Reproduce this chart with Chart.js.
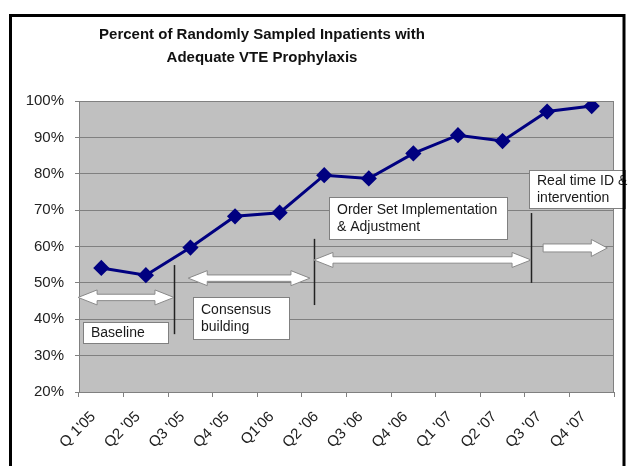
<!DOCTYPE html>
<html><head><meta charset="utf-8">
<script src="https://cdn.jsdelivr.net/npm/chart.js@4/dist/chart.umd.min.js"></script>
<style>html,body{margin:0;padding:0;background:#fff;overflow:hidden}canvas{display:block}</style>
</head><body>
<canvas id="c" width="628" height="466"></canvas>
<script>
const titleLines = ["Percent of Randomly Sampled Inpatients with", "Adequate VTE Prophylaxis"];
const quarters = ["Q 1'05","Q2 '05","Q3 '05","Q4 '05","Q1'06","Q2 '06","Q3 '06","Q4 '06","Q1 '07","Q2 '07","Q3 '07","Q4 '07"];
const percentAdequate = [54.1, 52.1, 59.7, 68.3, 69.3, 79.6, 78.7, 85.6, 90.6, 89.0, 97.1, 98.6];
const yMin = 20, yMax = 100, yStep = 10;

// phase annotations in data units (x: category index, y: percent)
const phaseLines = [
  {x: 1.63, from: 35.9, to: 54.9},
  {x: 4.77, from: 43.9, to: 62.1},
  {x: 9.64, from: 50.0, to: 69.2}
];
const phaseArrows = [
  {x1: -0.52, x2: 1.63, y: 46.0, both: true},
  {x1: 1.95, x2: 4.68, y: 51.3, both: true},
  {x1: 4.77, x2: 9.64, y: 56.3, both: true},
  {x1: 9.91, x2: 11.35, y: 59.6, both: false}
];
const phaseBoxes = [
  {lines: ["Baseline"], x1: -0.41, x2: 1.50, y1: 39.2, y2: 33.4},
  {lines: ["Consensus", "building"], x1: 2.06, x2: 4.21, y1: 46.1, y2: 34.6},
  {lines: ["Order Set Implementation", "& Adjustment"], x1: 5.11, x2: 9.10, y1: 73.6, y2: 62.1},
  {lines: ["Real time ID &", "intervention"], x1: 9.59, x2: 11.75, y1: 81.0, y2: 70.6}
];

const FONT = "'Liberation Sans', Arial, sans-serif";

const decor = {
  id: 'decor',
  beforeDraw(chart) {
    const {ctx, chartArea: a} = chart;
    ctx.save();
    ctx.fillStyle = '#fff';
    ctx.fillRect(0, 0, chart.width, chart.height);
    ctx.fillStyle = '#c0c0c0';
    ctx.fillRect(a.left, a.top, a.right - a.left, a.bottom - a.top);
    // title
    ctx.fillStyle = '#111';
    ctx.font = 'bold 15px ' + FONT;
    ctx.textAlign = 'center';
    ctx.textBaseline = 'middle';
    titleLines.forEach((t, i) => ctx.fillText(t, 262, 35 + i * 23));
    ctx.restore();
  },
  afterDraw(chart) {
    const {ctx, chartArea: a} = chart;
    const xs = chart.scales.x, ys = chart.scales.y;
    ctx.save();
    // plot border
    ctx.strokeStyle = '#808080';
    ctx.lineWidth = 1;
    ctx.strokeRect(a.left + 0.5, a.top + 0.5, a.right - a.left - 1, a.bottom - a.top);
    // vertical phase lines
    ctx.strokeStyle = '#222';
    ctx.lineWidth = 1.5;
    phaseLines.forEach(l => {
      const x = Math.round(xs.getPixelForValue(l.x)) + 0.5;
      ctx.beginPath();
      ctx.moveTo(x, ys.getPixelForValue(l.to));
      ctx.lineTo(x, ys.getPixelForValue(l.from));
      ctx.stroke();
    });
    // arrows
    ctx.fillStyle = '#fff';
    ctx.strokeStyle = '#8a8a8a';
    ctx.lineWidth = 1;
    phaseArrows.forEach(ar => {
      const x1 = xs.getPixelForValue(ar.x1), x2 = xs.getPixelForValue(ar.x2);
      const yc = ys.getPixelForValue(ar.y);
      ctx.beginPath();
      if (ar.both) {
        const s = 3.2, h = 7.5, L = 19;
        ctx.moveTo(x1, yc);
        ctx.lineTo(x1 + L, yc - h);
        ctx.lineTo(x1 + L, yc - s);
        ctx.lineTo(x2 - L, yc - s);
        ctx.lineTo(x2 - L, yc - h);
        ctx.lineTo(x2, yc);
        ctx.lineTo(x2 - L, yc + h);
        ctx.lineTo(x2 - L, yc + s);
        ctx.lineTo(x1 + L, yc + s);
        ctx.lineTo(x1 + L, yc + h);
      } else {
        const s = 4, h = 8.5, L = 16;
        ctx.moveTo(x1, yc - s);
        ctx.lineTo(x2 - L, yc - s);
        ctx.lineTo(x2 - L, yc - h);
        ctx.lineTo(x2, yc);
        ctx.lineTo(x2 - L, yc + h);
        ctx.lineTo(x2 - L, yc + s);
        ctx.lineTo(x1, yc + s);
      }
      ctx.closePath();
      ctx.fill();
      ctx.stroke();
    });
    // text boxes
    phaseBoxes.forEach(b => {
      const x1 = Math.round(xs.getPixelForValue(b.x1)) + 0.5, x2 = Math.round(xs.getPixelForValue(b.x2)) + 0.5;
      const y1 = Math.round(ys.getPixelForValue(b.y1)) + 0.5, y2 = Math.round(ys.getPixelForValue(b.y2)) + 0.5;
      ctx.fillStyle = '#fff';
      ctx.fillRect(x1, y1, x2 - x1, y2 - y1);
      ctx.strokeStyle = '#808080';
      ctx.strokeRect(x1, y1, x2 - x1, y2 - y1);
      ctx.fillStyle = '#1a1a1a';
      ctx.font = '14px ' + FONT;
      ctx.textBaseline = 'middle';
      ctx.textAlign = 'left';
      const lh = 17;
      const yc = (y1 + y2) / 2 - (b.lines.length - 1) * lh / 2;
      b.lines.forEach((t, i) => ctx.fillText(t, x1 + 7.5, yc + i * lh));
    });
    // outer frame
    ctx.strokeStyle = '#000';
    ctx.lineWidth = 3;
    ctx.beginPath();
    ctx.moveTo(10.5, 470);
    ctx.lineTo(10.5, 15.5);
    ctx.lineTo(624, 15.5);
    ctx.lineTo(624, 470);
    ctx.stroke();
    ctx.restore();
  }
};

new Chart(document.getElementById('c'), {
  type: 'line',
  data: {
    labels: quarters,
    datasets: [{
      data: percentAdequate,
      borderColor: '#000080',
      backgroundColor: '#000080',
      borderWidth: 3,
      pointStyle: 'rectRot',
      pointRadius: 6,
      pointHoverRadius: 6,
      tension: 0,
      fill: false
    }]
  },
  options: {
    responsive: false,
    animation: false,
    events: [],
    layout: {padding: {left: 0, right: 14, top: 101, bottom: 0}},
    plugins: {
      legend: {display: false},
      tooltip: {enabled: false},
      title: {display: false}
    },
    scales: {
      x: {
        offset: true,
        grid: {offset: true, drawOnChartArea: false, drawTicks: true, tickLength: 5, color: '#808080'},
        border: {color: '#808080'},
        ticks: {color: '#222', font: {family: FONT, size: 15}, minRotation: 45, maxRotation: 45, padding: 11, labelOffset: -8, autoSkip: false},
        afterFit(s) { s.height = 74; }
      },
      y: {
        min: yMin, max: yMax,
        grid: {color: '#808080', tickLength: 4, drawTicks: true},
        border: {color: '#808080'},
        ticks: {stepSize: yStep, color: '#222', font: {family: FONT, size: 15}, padding: 11, callback: v => v + '%'},
        afterFit(s) { s.width = 79; }
      }
    }
  },
  plugins: [decor]
});
</script>
</body></html>
